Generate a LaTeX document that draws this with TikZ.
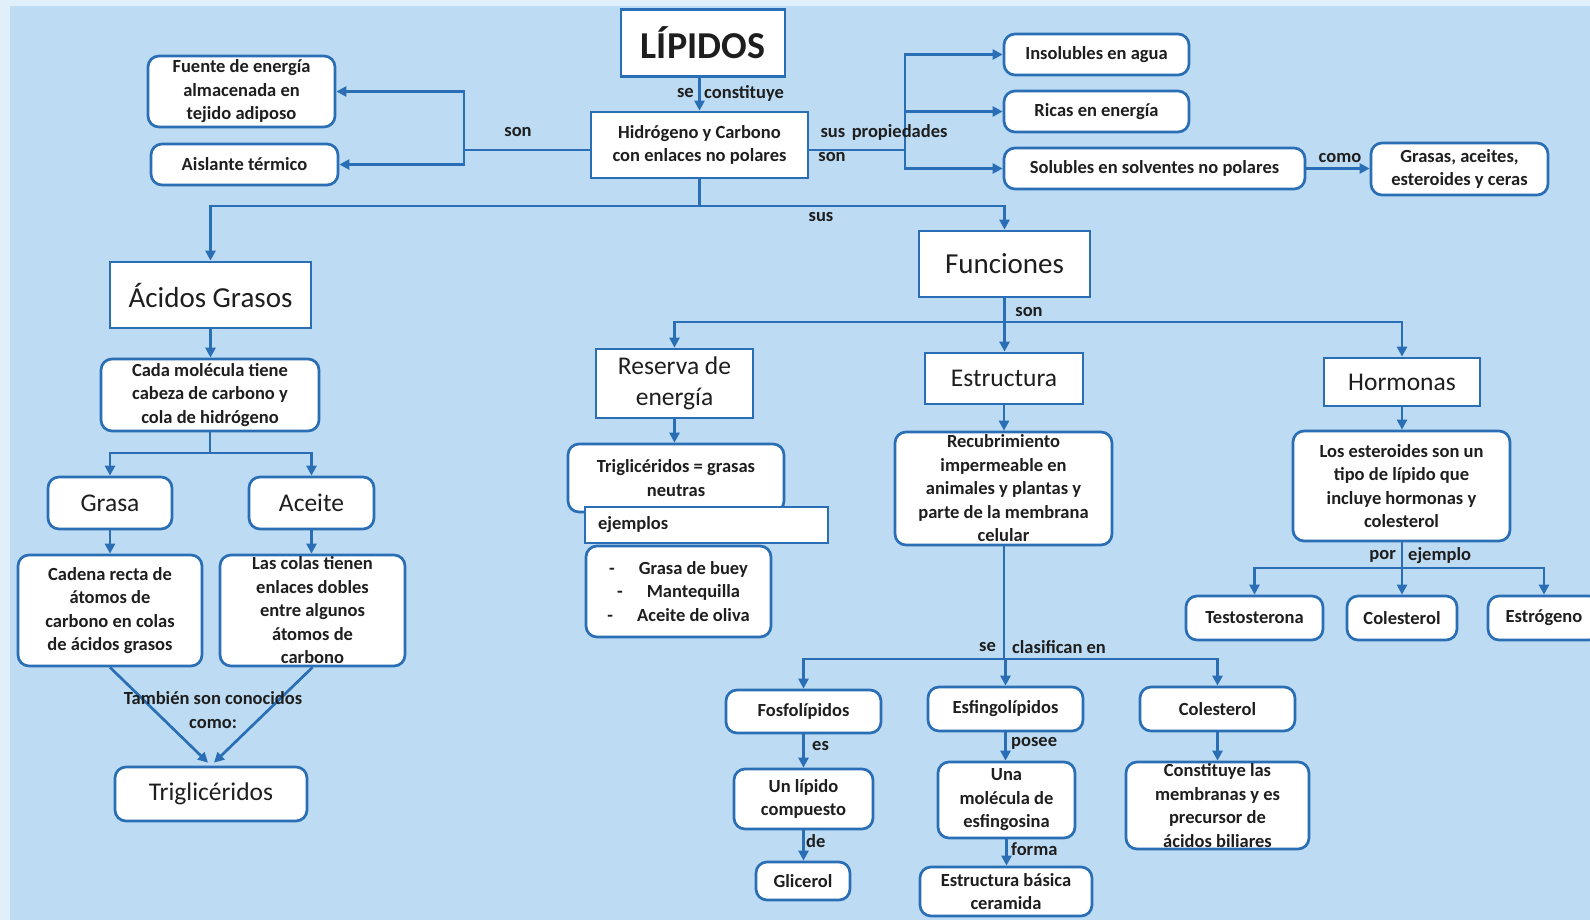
\documentclass[tikz,border=0pt]{standalone}
\usepackage{fontspec}
\setmainfont{Carlito}
\usetikzlibrary{arrows.meta}
\definecolor{bgblue}{HTML}{BDDCF3}
\definecolor{edgeblue}{HTML}{2A6EB5}
\definecolor{ink}{HTML}{1E1E1E}
\newcommand{\smalltxt}{\fontsize{18.5}{23.5}\selectfont\bfseries}
\newcommand{\medtxt}{\fontsize{25.5}{30.5}\selectfont}
\newcommand{\bigtxt}{\fontsize{29}{35}\selectfont}
\newcommand{\hugetxt}{\fontsize{38}{44}\selectfont\bfseries}
\tikzset{
  box/.style={draw=edgeblue, line width=2.7pt, fill=white, align=center, inner sep=0pt, text=ink, font=\smalltxt},
  sq/.style={box},
  rbox/.style={box, rounded corners=11pt},
  wh/.style 2 args={minimum width=#1pt, minimum height=#2pt},
  conn/.style={draw=edgeblue, line width=2.7pt},
  arr/.style={conn, -{Triangle[length=10pt,width=10pt]}},
  lbl/.style={text=ink, font=\smalltxt, inner sep=0pt, align=center},
}
\begin{document}
\begin{tikzpicture}[x=1pt,y=-1pt]
\useasboundingbox (0,0) rectangle (1590,920);
\fill[white!55!bgblue] (0,0) rectangle (1590,920);
\fill[bgblue] (10,6) rectangle (1590,920);

% top level
\node[sq, wh={164}{67}, font=\hugetxt] (lip) at (703,43) {LÍPIDOS};
\node[sq, wh={217}{66}] (hc) at (699.5,145) {Hidrógeno y Carbono\\con enlaces no polares};
\node[rbox, wh={187}{71}] (fuente) at (241.5,91.5) {Fuente de energía\\almacenada en\\tejido adiposo};
\node[rbox, wh={187}{41}] (aisl) at (244.5,164.5) {Aislante térmico};
\node[rbox, wh={185}{41}] (ins) at (1096.5,54.5) {Insolubles en agua};
\node[rbox, wh={185}{41}] (ricas) at (1096.5,111.5) {Ricas en energía};
\node[rbox, wh={301}{41}] (sol) at (1154.5,168.5) {Solubles en solventes no polares};
\node[rbox, wh={177}{52}] (gr) at (1459.5,169) {Grasas, aceites,\\esteroides y ceras};

% left branch
\node[sq, wh={201}{66}, font=\bigtxt] (acidos) at (210.5,295) {Ácidos Grasos};
\node[rbox, wh={218}{72}] (cada) at (210,395) {Cada molécula tiene\\cabeza de carbono y\\cola de hidrógeno};
\node[rbox, wh={124}{52}, font=\medtxt] (grasa) at (110,503) {Grasa};
\node[rbox, wh={125}{52}, font=\medtxt] (aceite) at (311.5,503) {Aceite};
\node[rbox, wh={184}{111}] (cadena) at (110,610.5) {Cadena recta de\\átomos de\\carbono en colas\\de ácidos grasos};
\node[rbox, wh={185}{111}] (colas) at (312.5,610.5) {Las colas tienen\\enlaces dobles\\entre algunos\\átomos de\\carbono};
\node[rbox, wh={192}{54}, font=\medtxt] (trig) at (211,794) {Triglicéridos};

% functions
\node[sq, wh={171}{66}, font=\bigtxt] (func) at (1004.5,264) {Funciones};
\node[sq, wh={157}{69}, font=\medtxt] (reserva) at (674.5,383.5) {Reserva de\\energía};
\node[sq, wh={158}{51}, font=\medtxt] (estr) at (1004,378.5) {Estructura};
\node[sq, wh={156}{48}, font=\medtxt] (horm) at (1402,382) {Hormonas};

\node[rbox, wh={216}{68}] (tn) at (676,478) {Triglicéridos = grasas\\neutras};
\node[sq, wh={243}{36}, text width=217pt, align=left] (ej) at (706.5,525) {ejemplos};
\node[rbox, wh={185}{91}] (exs) at (678.5,591.5) {-\hspace{1.3em}Grasa de buey\\-\hspace{1.3em}Mantequilla\\-\hspace{1.3em}Aceite de oliva};

\node[rbox, wh={217}{113}] (recub) at (1003.5,488.5) {Recubrimiento\\impermeable en\\animales y plantas y\\parte de la membrana\\celular};
\node[rbox, wh={155}{43}] (fosfo) at (803.5,711.5) {Fosfolípidos};
\node[rbox, wh={155}{44}] (esfin) at (1005.5,709) {Esfingolípidos};
\node[rbox, wh={155}{44}] (col) at (1217.5,709) {Colesterol};
\node[rbox, wh={139}{60}] (lipc) at (803.5,799) {Un lípido\\compuesto};
\node[rbox, wh={94}{38}] (glic) at (803,881) {Glicerol};
\node[rbox, wh={137}{76}] (mol) at (1006.5,800) {Una\\molécula de\\esfingosina};
\node[rbox, wh={172}{49}] (ceram) at (1006,891.5) {Estructura básica\\ceramida};
\node[rbox, wh={183}{87}] (const) at (1217.5,805.5) {Constituye las\\membranas y es\\precursor de\\ácidos biliares};

\node[rbox, wh={217}{110}] (este) at (1401.5,486) {Los esteroides son un\\tipo de lípido que\\incluye hormonas y\\colesterol};
\node[rbox, wh={137}{44}] (testo) at (1254.5,618) {Testosterona};
\node[rbox, wh={110}{44}] (col2) at (1402,618) {Colesterol};
\node[rbox, wh={112}{44}] (estro) at (1544,618) {Estrógeno};

% connectors: top
\draw[arr] (lip.south -| hc.north) -- (hc.north);
\node[lbl, anchor=east] (l1a) at (694,93) {se};
\node[lbl, anchor=west] (l1b) at (704,93) {constituye};

\coordinate (jl) at (464,150);
\draw[conn] (hc.west |- jl) -- (jl);
\draw[arr] (jl) |- (fuente.east);
\draw[arr] (jl) |- (aisl.east);
\node[lbl] (l2) at (518,132) {son};

\coordinate (jr) at (905,150);
\draw[conn] (hc.east |- jr) -- (jr);
\draw[arr] (jr) |- (ins.west);
\draw[arr] (jr) |- (ricas.west);
\draw[arr] (jr) |- (sol.west);
\node[lbl] (l3) at (884,132) {sus\hspace{0.35em}propiedades};
\node[lbl] (l4) at (832,157) {son};

\draw[arr] (sol.east) -- (sol.east -| gr.west);
\node[lbl] (l5) at (1340,158) {como};

\coordinate (jb) at (699.5,206);
\draw[conn] (hc.south) -- (jb);
\draw[arr] (jb) -| (acidos.north);
\draw[arr] (jb) -| (func.north);
\node[lbl] (l6) at (821,217) {sus};

% left branch
\draw[arr] (acidos.south) -- (acidos.south |- cada.north);
\coordinate (jc) at (210,453);
\draw[conn] (cada.south) -- (jc);
\draw[arr] (jc) -| (grasa.north);
\draw[arr] (jc) -| (aceite.north);
\draw[arr] (grasa.south) -- (grasa.south |- cadena.north);
\draw[arr] (aceite.south) -- (aceite.south |- colas.north);
\draw[arr] (cadena.south) -- ([xshift=-3pt,yshift=3pt]trig.north);
\draw[arr] (colas.south) -- ([xshift=3pt,yshift=3pt]trig.north);
\node[lbl] (l7) at (213,710) {También son conocidos\\como:};

% functions
\coordinate (jf) at (1004.5,322);
\draw[conn] (func.south) -- (jf);
\draw[arr] (jf) -| (reserva.north);
\draw[arr] (jf) -- (jf |- estr.north);
\draw[arr] (jf) -| (horm.north);
\node[lbl] (l8) at (1029,312) {son};

\draw[arr] (reserva.south) -- (reserva.south |- tn.north);
\draw[arr] (estr.south) -- (estr.south |- recub.north);
\draw[arr] (horm.south) -- (horm.south |- este.north);

\coordinate (js) at (1004,659);
\draw[conn] (recub.south -| js) -- (js);
\draw[arr] (js) -| (fosfo.north);
\draw[arr] (js) -| (esfin.north);
\draw[arr] (js) -| (col.north);
\node[lbl, anchor=east] (l9a) at (996,647) {se};
\node[lbl, anchor=west] (l9b) at (1012,647) {clasifican en};

\draw[arr] (fosfo.south) -- (fosfo.south |- lipc.north);
\node[lbl, anchor=west] (l10) at (812,746) {es};
\draw[arr] (lipc.south) -- (lipc.south |- glic.north);
\node[lbl, anchor=west] (l11) at (806,841) {de};
\draw[arr] (esfin.south) -- (esfin.south |- mol.north);
\node[lbl, anchor=west] (l12) at (1011,743) {posee};
\draw[arr] (mol.south) -- (mol.south |- ceram.north);
\node[lbl, anchor=west] (l13) at (1011,849) {forma};
\draw[arr] (col.south) -- (col.south |- const.north);

\coordinate (jh) at (1402,568);
\draw[conn] (este.south -| jh) -- (jh);
\draw[arr] (jh) -| (testo.north);
\draw[arr] (jh) -- (jh |- col2.north);
\draw[arr] (jh) -| (estro.north);
\node[lbl, anchor=east] (l14a) at (1396,556) {por};
\node[lbl, anchor=west] (l14b) at (1408,556) {ejemplo};
\end{tikzpicture}
\end{document}
